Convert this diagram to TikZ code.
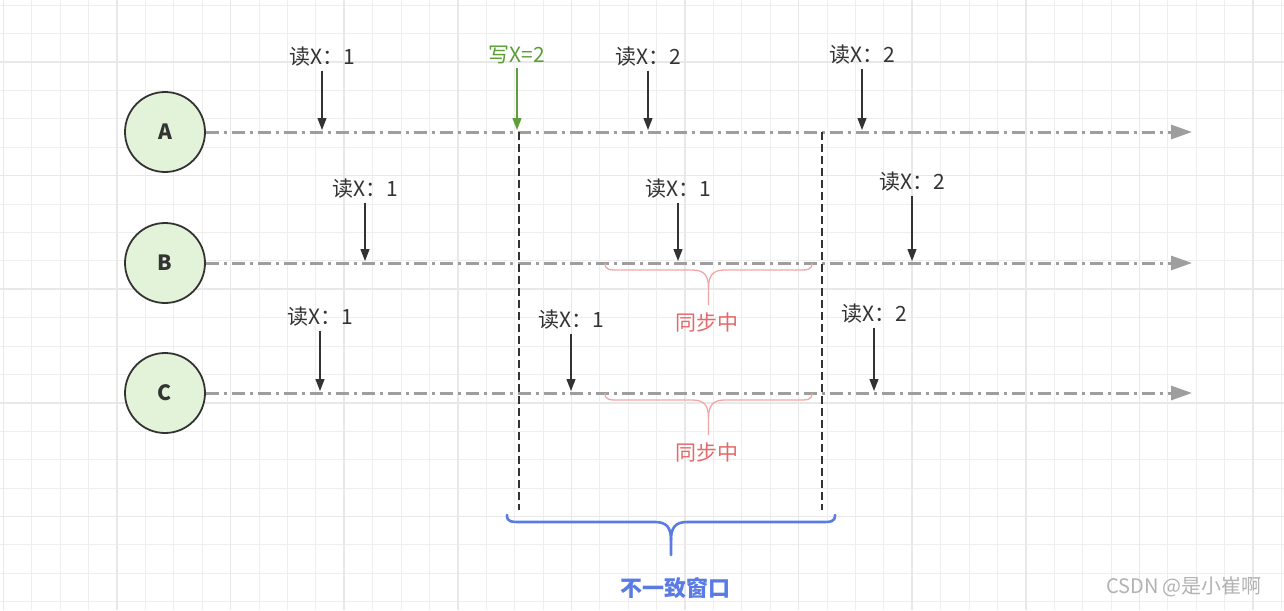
\documentclass[tikz,border=0pt]{standalone}
\usepackage{fontspec}
\setmainfont{Noto Sans CJK SC}
\usetikzlibrary{arrows.meta}

\definecolor{gridminor}{HTML}{EEEEEE}
\definecolor{gridmajor}{HTML}{E8E8E8}
\definecolor{procfill}{HTML}{E2F3D9}
\definecolor{textdark}{HTML}{333333}
\definecolor{linegrey}{HTML}{9E9E9E}
\definecolor{writegreen}{HTML}{5E9E3A}
\definecolor{syncpink}{HTML}{F2A7A7}
\definecolor{syncred}{HTML}{E46A6A}
\definecolor{windowblue}{HTML}{5A7BE3}

% curly brace with a long stem: style, left x, right x, end y, tip y
\newcommand{\drawbrace}[5]{%
    \pgfmathsetmacro{\bracemid}{(#2+#3)/2}
    \pgfmathsetmacro{\braceflat}{#4+7}
    \draw[#1] (#2,#4) .. controls (#2,\braceflat) and (#2+4,\braceflat) .. (#2+14,\braceflat)
        -- (\bracemid-16,\braceflat) .. controls (\bracemid-4,\braceflat) and (\bracemid,\braceflat+6) .. (\bracemid,\braceflat+18) -- (\bracemid,#5);
    \draw[#1] (#3,#4) .. controls (#3,\braceflat) and (#3-4,\braceflat) .. (#3-14,\braceflat)
        -- (\bracemid+16,\braceflat) .. controls (\bracemid+4,\braceflat) and (\bracemid,\braceflat+6) .. (\bracemid,\braceflat+18);
}

\tikzset{
    proc/.style={circle, draw=textdark, line width=1.8pt, fill=procfill, minimum size=80pt,
        inner sep=0pt, font=\fontsize{21}{23}\selectfont\bfseries, text=textdark},
    timeline/.style={linegrey, line width=3pt, dash pattern=on 13pt off 5pt on 3pt off 5pt,
        -{Triangle[length=21pt,width=14pt,fill=linegrey]}},
    readlbl/.style={font=\fontsize{21}{23}\selectfont, text=textdark, inner sep=1pt, outer sep=3pt},
    writelbl/.style={readlbl, text=writegreen},
    readarrow/.style={textdark, line width=1.2pt, -{Triangle[length=12pt,width=9pt]}, shorten >=2pt},
    writearrow/.style={readarrow, writegreen},
    windowline/.style={textdark, line width=1.4pt, dash pattern=on 8pt off 4pt},
    syncbrace/.style={syncpink, line width=1.3pt},
    syncnote/.style={font=\fontsize{21}{23}\selectfont, text=syncred},
    windowbrace/.style={windowblue, line width=2.6pt, line cap=round},
    windownote/.style={font=\fontsize{22}{24}\selectfont\bfseries, text=windowblue}
}

\begin{document}
\begin{tikzpicture}[x=1pt, y=-1pt]

\useasboundingbox (0,0) rectangle (1284,610);
\fill[white] (0,0) rectangle (1284,610);

% ===== Background grid =====
\foreach \k in {0,...,45}
    \draw[gridminor, line width=1pt] ({3.4+28.4*\k},0) -- ({3.4+28.4*\k},610);
\foreach \k in {0,...,21}
    \draw[gridminor, line width=1pt] (0,{5.2+28.4*\k}) -- (1284,{5.2+28.4*\k});
\foreach \k in {0,4,...,44}
    \draw[gridmajor, line width=1.5pt] ({3.4+28.4*\k},0) -- ({3.4+28.4*\k},610);
\foreach \k in {2,6,...,21}
    \draw[gridmajor, line width=1.5pt] (0,{5.2+28.4*\k}) -- (1284,{5.2+28.4*\k});

% ===== Processes =====
\node[proc] (A) at (165,132) {A};
\node[proc] (B) at (165,263) {B};
\node[proc] (C) at (165,393) {C};

% ===== Time lines =====
\coordinate (endA) at (1192,132);
\coordinate (endB) at (1192,263);
\coordinate (endC) at (1192,393);
\draw[timeline] (A.east) -- (endA);
\draw[timeline] (B.east) -- (endB);
\draw[timeline] (C.east) -- (endC);

% ===== Inconsistency window =====
\coordinate (winLtop) at (519,132);
\coordinate (winLbot) at (519,510);
\coordinate (winRtop) at (822,132);
\coordinate (winRbot) at (822,510);
\draw[windowline] (winLtop) -- (winLbot);
\draw[windowline] (winRtop) -- (winRbot);

% ===== Reads and write on A =====
\node[readlbl] (ra1) at (322,57) {读X：1};
\node[writelbl] (wa) at (517,55) {写X=2};
\node[readlbl] (ra2) at (648,57) {读X：2};
\node[readlbl] (ra3) at (862,55) {读X：2};
\draw[readarrow] (ra1.south) -- (ra1.south |- A.east);
\draw[writearrow] (wa.south) -- (wa.south |- A.east);
\draw[readarrow] (ra2.south) -- (ra2.south |- A.east);
\draw[readarrow] (ra3.south) -- (ra3.south |- A.east);

% ===== Reads on B =====
\node[readlbl] (rb1) at (365,189) {读X：1};
\node[readlbl] (rb2) at (678,189) {读X：1};
\node[readlbl] (rb3) at (912,182) {读X：2};
\draw[readarrow] (rb1.south) -- (rb1.south |- B.east);
\draw[readarrow] (rb2.south) -- (rb2.south |- B.east);
\draw[readarrow] (rb3.south) -- (rb3.south |- B.east);

% ===== Reads on C =====
\node[readlbl] (rc1) at (320,317) {读X：1};
\node[readlbl] (rc2) at (571,320) {读X：1};
\node[readlbl] (rc3) at (874,314) {读X：2};
\draw[readarrow] (rc1.south) -- (rc1.south |- C.east);
\draw[readarrow] (rc2.south) -- (rc2.south |- C.east);
\draw[readarrow] (rc3.south) -- (rc3.south |- C.east);

% ===== Syncing braces =====
\drawbrace{syncbrace}{605}{812}{263}{305}
\drawbrace{syncbrace}{605}{812}{393}{435}
\node[syncnote] (syncB) at (707,323) {同步中};
\node[syncnote] (syncC) at (707,453) {同步中};

% ===== Window brace =====
\drawbrace{windowbrace}{507}{835}{515}{555}
\node[windownote] (window) at (675,588) {不一致窗口};

% watermark
\node[font=\fontsize{20}{22}\selectfont, text=black!30] (mark) at (1184,587) {CSDN @是小崔啊};

\end{tikzpicture}
\end{document}
